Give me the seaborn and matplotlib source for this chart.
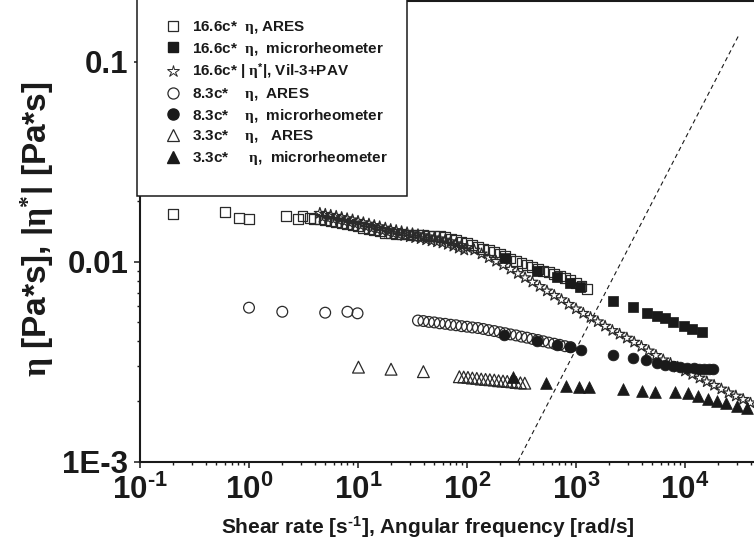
import numpy as np
import pandas as pd
import matplotlib
matplotlib.use("Agg")
import matplotlib.pyplot as plt
import seaborn as sns
from matplotlib.patches import Rectangle
from matplotlib.lines import Line2D
from matplotlib.ticker import FixedLocator, FixedFormatter, LogLocator, NullFormatter

# ---------------- data ----------------
# 16.6c* eta, ARES (open squares)
sq_open_x = [0.2, 0.6, 0.81, 1.0, 2.2, 2.8, 3.1, 3.6,
             3.98, 4.47, 5.01, 5.62, 6.31, 7.08, 7.94, 8.91, 10.0, 11.2, 12.6, 14.1, 15.8,
             17.8, 20.0, 22.4, 25.1, 28.2, 31.6, 35.5, 39.8, 44.7, 50.1, 56.2, 63.1, 70.8,
             79.4, 89.1, 100, 112, 126, 141, 158, 178, 200, 224, 251, 282, 316, 355, 398,
             447, 501, 562, 631, 708, 794, 891, 1000, 1122, 1259]
sq_open_y = [0.0173, 0.0178, 0.0165, 0.0164, 0.0170, 0.0164, 0.0170, 0.0165,
             0.01641, 0.01626, 0.01607, 0.01589, 0.01570, 0.01552, 0.01535, 0.01517, 0.01500,
             0.01479, 0.01459, 0.01439, 0.01416, 0.01393, 0.01384, 0.01377, 0.01374, 0.01368,
             0.01365, 0.01358, 0.01355, 0.01349, 0.01346, 0.01340, 0.01334, 0.01306, 0.01282,
             0.01259, 0.01236, 0.01211, 0.01186, 0.01161, 0.01143, 0.01117, 0.01091, 0.01067,
             0.01038, 0.01012, 0.00986, 0.00962, 0.00942, 0.00923, 0.00902, 0.00885, 0.00867,
             0.00849, 0.00832, 0.00813, 0.00785, 0.00759, 0.00733]

# 16.6c* eta, microrheometer (filled squares)
sq_fill_x = [223, 442, 665, 881, 1088, 2200, 3357, 4455, 5500, 6560, 7820, 9790, 11520, 14220]
sq_fill_y = [0.0104, 0.00899, 0.00836, 0.00785, 0.0075, 0.00638, 0.00592, 0.00556, 0.00535,
             0.00521, 0.00501, 0.00477, 0.00459, 0.00447]

# 16.6c* |eta*|, Vil-3+PAV (open stars) - upper row of the band
star_x = [4.47, 5.01, 5.62, 6.31, 7.08, 7.94, 8.91, 10.0, 11.2, 12.6, 14.1, 15.8, 17.8, 19.95,
          22.4, 25.1, 28.2, 31.6, 35.5, 39.8, 44.7, 50.1, 56.2, 63.1, 70.8, 79.4, 89.1,
          100, 116.6, 136, 158.5, 185, 215, 251, 293, 341, 398, 464, 541, 631, 736, 857,
          1000, 1166, 1359, 1585, 1848, 2154, 2512, 2929, 3415, 3981, 4642, 5412, 6310,
          7356, 8577, 10000, 11659, 13594, 15849, 18478, 21544, 25119, 29286, 34145, 39811]
star_y = [0.01746, 0.01726, 0.01706, 0.01687, 0.01663, 0.01641, 0.01618, 0.01592, 0.01567,
          0.01542, 0.01517, 0.01496, 0.01472, 0.01449, 0.01432, 0.01413, 0.01396, 0.01380,
          0.01365, 0.01349, 0.01330, 0.01315, 0.01300, 0.01283, 0.01259, 0.01230, 0.01205,
          0.01178, 0.01143, 0.01094, 0.01047, 0.01005, 0.00964, 0.00918, 0.00873, 0.00832,
          0.00791, 0.00752, 0.00714, 0.00679, 0.00646, 0.00612, 0.00581, 0.00552, 0.00526,
          0.00501, 0.00476, 0.00453, 0.00434, 0.00415, 0.00396, 0.00377, 0.00358, 0.00340,
          0.00323, 0.00310, 0.00297, 0.00284, 0.00273, 0.00262, 0.00251, 0.00241, 0.00231,
          0.00221, 0.00213, 0.00205, 0.00197]
# lower row of the dense star band (low frequencies)
star2_x = [4.73, 5.31, 5.96, 6.68, 7.50, 8.41, 9.44, 10.6, 11.9, 13.3, 15.0, 16.8, 18.8, 21.1,
           23.7, 26.6, 29.9, 33.5, 37.6, 42.2, 47.3, 53.1, 59.6, 66.8, 75.0, 84.1, 94.4]
star2_y = [0.01667, 0.01647, 0.01628, 0.01608, 0.01586, 0.01565, 0.01541, 0.01517, 0.01493,
           0.01469, 0.01447, 0.01425, 0.01403, 0.01383, 0.01366, 0.01349, 0.01332, 0.01318,
           0.01303, 0.01286, 0.01270, 0.01256, 0.01240, 0.01220, 0.01195, 0.01169, 0.01144]

# 8.3c* eta, ARES (open circles)
ci_open_x = [1.0, 2.02, 5.0, 8.0, 9.9,
             35.5, 39.8, 44.7, 50.1, 56.2, 63.1, 70.8, 79.4, 89.1, 100, 112, 126, 141, 158,
             178, 200, 224, 251, 282, 316, 355, 398, 447, 501, 562, 631, 708, 794, 891]
ci_open_y = [0.00589, 0.00562, 0.00556, 0.00562, 0.00552,
             0.00508, 0.00505, 0.00500, 0.00497, 0.00492, 0.00489, 0.00484, 0.00481, 0.00476,
             0.00473, 0.00469, 0.00466, 0.00461, 0.00455, 0.00450, 0.00444, 0.00439, 0.00433,
             0.00428, 0.00422, 0.00417, 0.00411, 0.00406, 0.00400, 0.00394, 0.00389, 0.00384,
             0.00378, 0.00374]

# 8.3c* eta, microrheometer (filled circles)
ci_fill_x = [220, 437, 665, 881, 1105, 2200, 3360, 4390, 5500, 6600, 7800, 9000, 10500,
             12000, 13500, 15000, 16500, 18000]
ci_fill_y = [0.00430, 0.00401, 0.00383, 0.00376, 0.00363, 0.00341, 0.00331, 0.00322, 0.00313,
             0.00306, 0.00301, 0.00298, 0.00295, 0.00293, 0.00292, 0.00291, 0.00290, 0.00290]

# 3.3c* eta, ARES (open triangles)
tr_open_x = [10.1, 20.1, 39.8,
             85.1, 93.3, 102, 112, 123, 135, 148, 162, 178, 195, 214, 234, 257, 282, 309, 339]
tr_open_y = [0.00297, 0.00290, 0.00282,
             0.00266, 0.00265, 0.00264, 0.00262, 0.00261, 0.00259, 0.00258, 0.00257, 0.00256,
             0.00254, 0.00253, 0.00252, 0.00251, 0.00249, 0.00248, 0.00247]

# 3.3c* eta, microrheometer (filled triangles)
tr_fill_x = [266, 527, 804, 1072, 1324, 2717, 4006, 5310, 8100, 10720, 13200, 16360, 19500,
             24000, 29800, 36800]
tr_fill_y = [0.00264, 0.00248, 0.00240, 0.00237, 0.00236, 0.00230, 0.00226, 0.00224, 0.00224,
             0.00220, 0.00214, 0.00207, 0.00200, 0.00196, 0.00190, 0.00185]

# dashed guide line (end points)
guide_x = [292, 31000]
guide_y = [0.001, 0.135]

legend_labels = [
    r"16.6c*  $\mathrm{η}$, ARES",
    r"16.6c*  $\mathrm{η}$,  microrheometer",
    r"16.6c* | $\mathrm{η}^{\mathbf{*}}$|, Vil-3+PAV",
    r"8.3c*    $\mathrm{η}$,  ARES",
    r"8.3c*    $\mathrm{η}$,  microrheometer",
    r"3.3c*    $\mathrm{η}$,   ARES",
    r"3.3c*     $\mathrm{η}$,  microrheometer",
]

x_ticks = [0.1, 1, 10, 100, 1000, 10000]
x_tick_labels = [r"$\mathbf{10^{‐1}}$", r"$\mathbf{10^{0}}$", r"$\mathbf{10^{1}}$",
                 r"$\mathbf{10^{2}}$", r"$\mathbf{10^{3}}$", r"$\mathbf{10^{4}}$"]
y_ticks = [0.001, 0.01, 0.1]
y_tick_labels = ["1E-3", "0.01", "0.1"]

x_label = r"Shear rate [s$^{\mathbf{‐1}}$], Angular frequency [rad/s]"
y_label = r"$\mathrm{η}$ [Pa*s], |$\mathrm{η}^{*}$| [Pa*s]"

# ---------------- style ----------------
sns.set_theme(style="ticks")
plt.rcParams["font.family"] = ["Liberation Sans", "DejaVu Sans"]
plt.rcParams["font.weight"] = "bold"
plt.rcParams["axes.unicode_minus"] = False
plt.rcParams["mathtext.fontset"] = "custom"
plt.rcParams["mathtext.rm"] = "Liberation Serif"
plt.rcParams["mathtext.it"] = "Liberation Serif:italic"
plt.rcParams["mathtext.bf"] = "Liberation Sans:bold"
plt.rcParams["mathtext.sf"] = "Liberation Sans"

W, H = 754, 554
fig = plt.figure(figsize=(W / 100, H / 100), dpi=100)
fig.patch.set_facecolor("white")
ax = fig.add_axes([140 / W, (H - 461.7) / H, (W - 140) / W, 460.7 / H])
ax.set_xscale("log")
ax.set_yscale("log")
ax.set_xlim(0.1, 10 ** (-1 + 614 / 109))
ax.set_ylim(0.001, 10 ** (-3 + 460.7 / 200))

edge = "#2a2a2a"
lw_open = 0.9
s_sq, s_ci, s_tr, s_st = 50, 60, 72, 70

sns.scatterplot(x=sq_open_x, y=sq_open_y, marker="s", s=s_sq, color="k", facecolor="none",
                edgecolor=edge, linewidth=lw_open, ax=ax, legend=False, zorder=3)
sns.scatterplot(x=star2_x, y=star2_y, marker="*", s=s_st, color="k", facecolor="none",
                edgecolor=edge, linewidth=lw_open, ax=ax, legend=False, zorder=3)
sns.scatterplot(x=star_x, y=star_y, marker="*", s=s_st, color="k", facecolor="none",
                edgecolor=edge, linewidth=lw_open, ax=ax, legend=False, zorder=3)
sns.scatterplot(x=sq_fill_x, y=sq_fill_y, marker="s", s=s_sq, color="k", facecolor="k",
                edgecolor="k", linewidth=0.5, ax=ax, legend=False, zorder=4)
sns.scatterplot(x=ci_open_x, y=ci_open_y, marker="o", s=s_ci, color="k", facecolor="none",
                edgecolor=edge, linewidth=lw_open, ax=ax, legend=False, zorder=3)
sns.scatterplot(x=ci_fill_x, y=ci_fill_y, marker="o", s=s_ci, color="k", facecolor="k",
                edgecolor="k", linewidth=0.5, ax=ax, legend=False, zorder=4)
sns.scatterplot(x=tr_open_x, y=tr_open_y, marker="^", s=s_tr, color="k", facecolor="none",
                edgecolor=edge, linewidth=lw_open, ax=ax, legend=False, zorder=3)
sns.scatterplot(x=tr_fill_x, y=tr_fill_y, marker="^", s=s_tr, color="k", facecolor="k",
                edgecolor="k", linewidth=0.5, ax=ax, legend=False, zorder=4)
sns.lineplot(x=guide_x, y=guide_y, color="k", linewidth=0.8, linestyle=(0, (4, 3)),
             ax=ax, legend=False, zorder=2)

# ---------------- axes ----------------
ax.xaxis.set_major_locator(FixedLocator(x_ticks))
ax.xaxis.set_major_formatter(FixedFormatter(x_tick_labels))
ax.xaxis.set_minor_locator(LogLocator(base=10, subs=np.arange(2, 10)))
ax.xaxis.set_minor_formatter(NullFormatter())
ax.yaxis.set_major_locator(FixedLocator(y_ticks))
ax.yaxis.set_major_formatter(FixedFormatter(y_tick_labels))
ax.yaxis.set_minor_locator(LogLocator(base=10, subs=np.arange(2, 10)))
ax.yaxis.set_minor_formatter(NullFormatter())

ax.tick_params(axis="both", which="major", direction="out", length=4.5, width=1.1,
               color="k", labelsize=22.5, labelcolor="k")
ax.tick_params(axis="both", which="minor", direction="out", length=2.3, width=1.0, color="k")
ax.tick_params(axis="y", which="major", pad=4)
ax.tick_params(axis="x", which="major", pad=5)
for lab in ax.get_xticklabels() + ax.get_yticklabels():
    lab.set_fontweight("bold")

for side in ["left", "bottom", "top"]:
    ax.spines[side].set_linewidth(1.5)
    ax.spines[side].set_color("k")
ax.spines["right"].set_visible(False)

ax.set_xlabel(x_label, fontsize=15, fontweight="bold", color="k")
ax.xaxis.set_label_coords((428 - 140) / 614, (461.7 - 527) / 460.7)
ax.xaxis.label.set_va("center")
ax.set_ylabel(y_label, fontsize=24, fontweight="bold", color="k")
ax.yaxis.set_label_coords((37 - 140) / 614, (461.7 - 229) / 460.7)
ax.yaxis.label.set_va("center")

# ---------------- legend ----------------
frame = Rectangle((137 / W, (H - 196) / H), 270 / W, 200 / H, transform=fig.transFigure,
                  facecolor="white", edgecolor="k", linewidth=1.1, zorder=3)
fig.add_artist(frame)

handles = [
    Line2D([], [], linestyle="none", marker="s", markersize=7, markerfacecolor="none",
           markeredgecolor=edge, markeredgewidth=lw_open),
    Line2D([], [], linestyle="none", marker="s", markersize=7, markerfacecolor="k",
           markeredgecolor="k"),
    Line2D([], [], linestyle="none", marker="*", markersize=9, markerfacecolor="none",
           markeredgecolor=edge, markeredgewidth=0.7),
    Line2D([], [], linestyle="none", marker="o", markersize=8, markerfacecolor="none",
           markeredgecolor=edge, markeredgewidth=lw_open),
    Line2D([], [], linestyle="none", marker="o", markersize=8, markerfacecolor="k",
           markeredgecolor="k"),
    Line2D([], [], linestyle="none", marker="^", markersize=8.5, markerfacecolor="none",
           markeredgecolor=edge, markeredgewidth=lw_open),
    Line2D([], [], linestyle="none", marker="^", markersize=8.5, markerfacecolor="k",
           markeredgecolor="k"),
]
leg = fig.legend(handles, legend_labels, loc="upper left",
                 bbox_to_anchor=(165 / W, (H - 19) / H), bbox_transform=fig.transFigure,
                 frameon=False, prop={"family": ["Liberation Sans", "DejaVu Sans"],
                                      "weight": "bold", "size": 11},
                 handlelength=1.0, handletextpad=0.75, labelspacing=0.24, borderpad=0,
                 borderaxespad=0)
leg.set_zorder(5)
for t in leg.get_texts():
    t.set_color("k")

fig.savefig("out.png", dpi=100, facecolor="white")
